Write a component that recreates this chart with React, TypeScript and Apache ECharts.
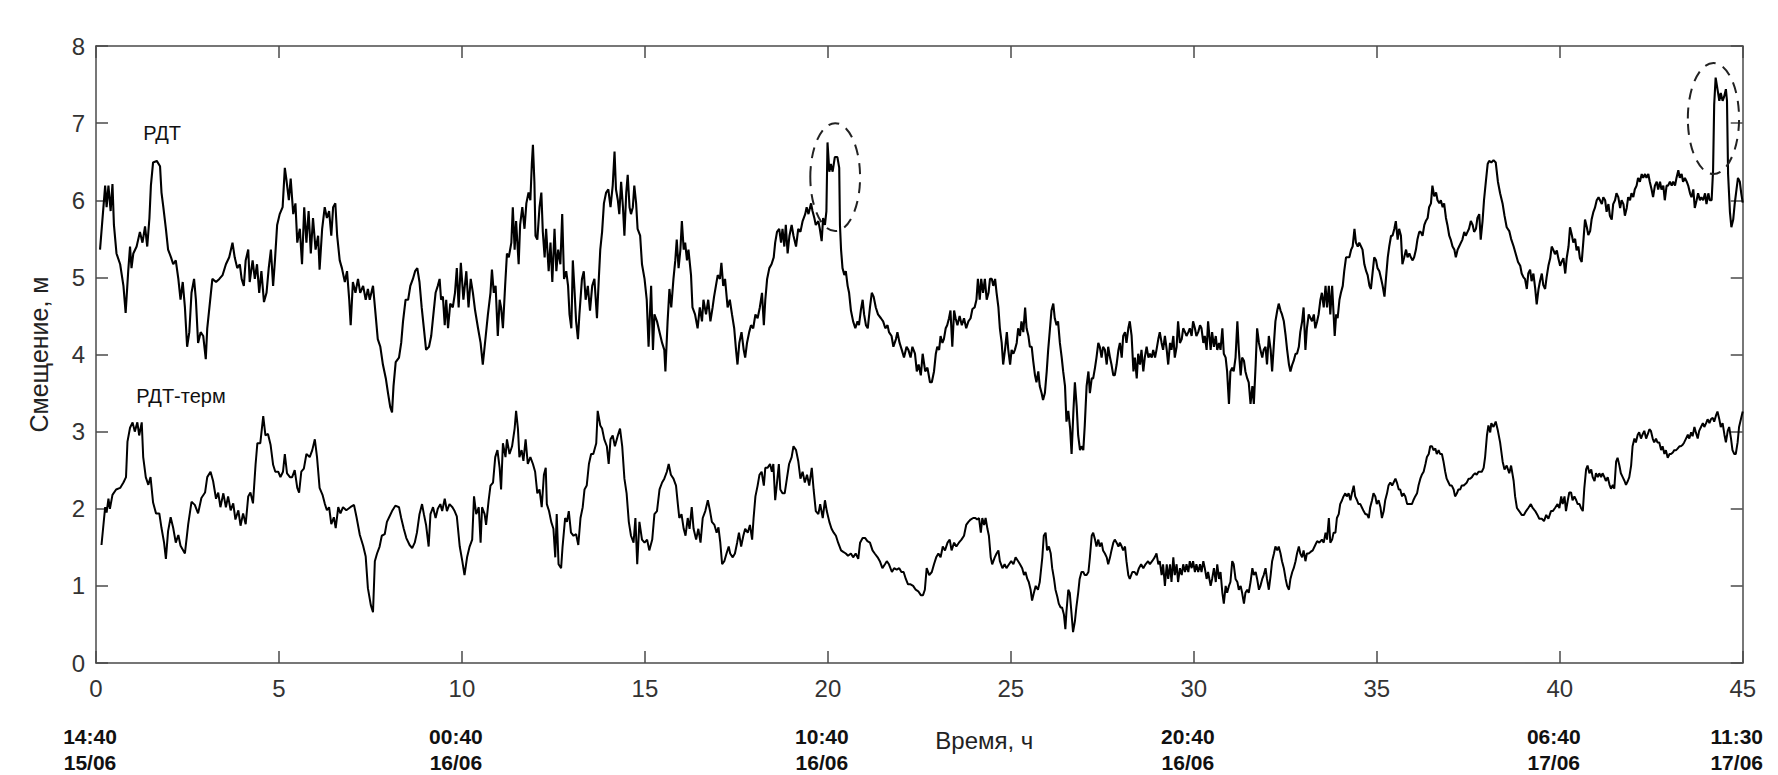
import React, { useEffect, useRef } from "react";
import * as echarts from "echarts";

// Displacement series: [hours, metres]
const rdt: [number, number][] = [
[0.11,5.36],[0.25,6.19],[0.29,5.91],[0.34,6.19],[0.4,5.86],[0.45,6.21],[0.49,5.68],[0.56,5.31],[0.66,5.17],[0.75,4.89],[0.81,4.54],[0.88,5.08],[0.93,5.40],[0.97,5.12],[1.02,5.31],[1.11,5.40],[1.2,5.59],[1.27,5.45],[1.34,5.66],[1.40,5.40],[1.46,5.77],[1.5,6.19],[1.56,6.49],[1.66,6.51],[1.75,6.44],[1.79,6.10],[1.84,5.91],[1.91,5.63],[1.97,5.36],[2.05,5.26],[2.11,5.17],[2.18,5.22],[2.25,4.98],[2.31,4.71],[2.37,4.94],[2.43,4.61],[2.49,4.10],[2.55,4.29],[2.61,4.80],[2.68,4.98],[2.73,4.71],[2.79,4.15],[2.86,4.29],[2.93,4.24],[3.0,3.94],[3.04,4.34],[3.11,4.66],[3.18,4.98],[3.28,4.94],[3.37,4.98],[3.46,5.03],[3.55,5.17],[3.64,5.26],[3.73,5.45],[3.79,5.26],[3.86,5.12],[3.93,5.17],[3.98,4.98],[4.04,4.89],[4.09,5.22],[4.16,5.36],[4.2,4.94],[4.28,5.22],[4.34,4.98],[4.4,5.17],[4.46,4.80],[4.52,5.08],[4.59,4.68],[4.66,4.80],[4.72,5.12],[4.78,5.36],[4.84,4.89],[4.89,5.22],[4.95,5.68],[5.02,5.82],[5.1,5.91],[5.16,6.42],[5.2,6.28],[5.27,6.0],[5.32,6.28],[5.39,5.82],[5.45,5.96],[5.5,5.45],[5.57,5.63],[5.63,5.17],[5.69,5.91],[5.75,5.45],[5.81,5.86],[5.87,5.31],[5.93,5.77],[6.0,5.36],[6.07,5.54],[6.11,5.10],[6.18,5.63],[6.25,5.91],[6.31,5.77],[6.37,5.86],[6.43,5.54],[6.48,5.91],[6.54,5.96],[6.59,5.54],[6.66,5.22],[6.72,5.12],[6.8,4.94],[6.86,5.08],[6.92,4.71],[6.96,4.38],[7.02,4.94],[7.09,4.80],[7.16,4.98],[7.22,4.80],[7.3,4.89],[7.37,4.71],[7.43,4.85],
[7.48,4.71],[7.57,4.89],[7.64,4.52],[7.7,4.20],[7.77,4.10],[7.84,3.87],[7.92,3.69],[7.98,3.50],[8.04,3.32],[8.09,3.25],[8.13,3.59],[8.19,3.90],[8.28,3.96],[8.34,4.15],[8.39,4.43],[8.46,4.71],[8.53,4.71],[8.59,4.89],[8.66,4.98],[8.72,5.08],[8.78,5.12],[8.84,4.94],[8.9,4.61],[8.96,4.34],[9.02,4.06],[9.1,4.10],[9.16,4.24],[9.23,4.57],[9.28,4.80],[9.34,4.89],[9.39,4.98],[9.43,4.71],[9.48,4.75],[9.53,4.38],[9.57,4.71],[9.62,4.34],[9.68,4.66],[9.75,4.61],[9.81,4.80],[9.86,5.12],[9.91,4.61],[9.97,5.19],[10.04,4.71],[10.12,5.08],[10.18,4.61],[10.24,4.98],[10.3,4.80],[10.36,4.57],[10.44,4.34],[10.51,4.15],[10.57,3.87],[10.65,4.24],[10.71,4.52],[10.78,4.80],[10.82,5.10],[10.87,4.80],[10.92,4.89],[10.98,4.24],[11.03,4.71],[11.07,4.61],[11.12,4.34],[11.18,4.89],[11.23,5.31],[11.28,5.26],[11.35,5.45],[11.39,5.91],[11.44,5.36],[11.48,5.73],[11.55,5.17],[11.59,5.68],[11.65,5.91],[11.71,5.63],[11.76,5.96],[11.82,6.10],[11.87,6.0],[11.91,6.47],[11.94,6.72],[11.98,6.24],[12.01,5.54],[12.06,5.49],[12.12,5.91],[12.17,6.10],[12.21,5.59],[12.26,5.26],[12.3,5.63],[12.37,5.08],[12.42,5.45],[12.47,4.94],[12.53,5.63],[12.58,5.08],[12.63,5.36],[12.69,5.17],[12.74,5.82],[12.79,4.98],[12.85,5.08],[12.9,4.89],[12.94,4.52],[12.99,4.34],[13.03,5.22],[13.08,4.80],[13.12,4.43],[13.17,4.20],[13.21,4.52],[13.28,4.98],[13.33,5.08],[13.38,4.71],[13.44,4.89],[13.5,4.57],[13.56,4.89],[13.62,4.98],[13.69,4.47],[13.74,4.98],[13.78,5.36],[13.83,5.59],[13.88,5.96],[13.94,6.10],[14.0,6.14],[14.06,5.91],[14.12,6.19],[14.17,6.63],[14.21,6.14],[14.26,6.0],[14.3,5.82],[14.35,6.24],[14.4,5.91],[14.44,5.54],[14.49,6.10],[14.53,6.33],[14.58,5.91],[14.62,5.82],[14.67,5.91],[14.71,6.19],[14.76,5.96],[14.8,5.63],[14.87,5.54],[14.92,5.17],[14.99,4.98],[15.05,4.71],[15.1,4.10],
[15.17,4.89],[15.22,4.06],[15.26,4.52],[15.33,4.43],[15.4,4.29],[15.47,4.15],[15.53,4.06],[15.56,3.78],[15.62,4.43],[15.67,4.85],[15.72,4.61],[15.78,4.98],[15.83,5.22],[15.87,5.49],[15.92,5.12],[15.97,5.36],[16.01,5.73],[16.06,5.36],[16.1,5.45],[16.15,5.22],[16.19,5.36],[16.26,5.03],[16.3,4.61],[16.37,4.52],[16.44,4.34],[16.5,4.61],[16.56,4.43],[16.6,4.71],[16.67,4.52],[16.73,4.71],[16.79,4.43],[16.85,4.61],[16.89,4.75],[16.94,4.89],[16.99,5.03],[17.05,4.98],[17.09,5.19],[17.14,4.89],[17.19,4.98],[17.26,4.61],[17.32,4.71],[17.38,4.52],[17.44,4.34],[17.49,4.06],[17.53,3.87],[17.58,4.15],[17.64,4.29],[17.7,4.06],[17.74,3.96],[17.79,4.15],[17.85,4.29],[17.9,4.38],[17.96,4.34],[18.02,4.52],[18.08,4.47],[18.14,4.61],[18.2,4.80],[18.25,4.38],[18.29,4.71],[18.34,4.98],[18.4,5.12],[18.46,5.17],[18.52,5.26],[18.56,5.45],[18.61,5.59],[18.67,5.63],[18.72,5.45],[18.76,5.63],[18.81,5.40],[18.85,5.68],[18.9,5.31],[18.95,5.54],[19.01,5.68],[19.06,5.54],[19.13,5.40],[19.19,5.63],[19.25,5.59],[19.31,5.73],[19.38,5.82],[19.42,5.91],[19.47,5.82],[19.54,5.96],[19.58,5.86],[19.63,5.77],[19.67,5.68],[19.74,5.73],[19.78,5.63],[19.83,5.47],[19.87,5.77],[19.92,5.68],[19.96,5.86],[19.99,6.75],[20.04,6.37],[20.08,6.47],[20.13,6.37],[20.19,6.56],[20.26,6.56],[20.31,6.42],[20.33,5.68],[20.36,5.36],[20.4,5.12],[20.45,5.03],[20.49,5.08],[20.54,4.89],[20.58,4.80],[20.63,4.57],[20.69,4.43],[20.75,4.34],[20.81,4.43],[20.85,4.38],[20.9,4.57],[20.95,4.71],[20.99,4.52],[21.04,4.38],[21.09,4.34],[21.15,4.61],[21.2,4.80],[21.25,4.75],[21.31,4.61],[21.37,4.52],[21.45,4.47],[21.51,4.43],[21.57,4.34],[21.63,4.38],[21.67,4.29],[21.74,4.24],[21.79,4.10],[21.86,4.20],[21.9,4.29],[21.96,4.15],[22.02,4.06],[22.08,3.96],[22.15,4.10],[22.2,4.06],[22.26,3.96],[22.31,4.10],[22.38,4.01],[22.43,3.78],[22.48,3.87],[22.54,3.73],[22.59,4.01],[22.66,3.78],[22.72,3.83],[22.79,3.64],
[22.84,3.64],[22.9,3.78],[22.95,4.01],[22.99,4.10],[23.04,4.06],[23.08,4.24],[23.13,4.15],[23.17,4.20],[23.22,4.34],[23.26,4.38],[23.31,4.47],[23.35,4.57],[23.4,4.10],[23.45,4.57],[23.49,4.47],[23.54,4.38],[23.6,4.50],[23.66,4.38],[23.72,4.47],[23.78,4.34],[23.84,4.43],[23.9,4.47],[23.95,4.59],[24.01,4.61],[24.06,4.71],[24.1,4.98],[24.15,4.71],[24.19,4.98],[24.24,4.80],[24.29,4.98],[24.34,4.71],[24.39,4.80],[24.43,4.98],[24.48,4.98],[24.52,4.89],[24.57,4.98],[24.61,4.80],[24.66,4.61],[24.7,4.34],[24.75,4.15],[24.79,3.87],[24.84,4.06],[24.89,4.29],[24.93,4.06],[24.98,3.87],[25.02,4.06],[25.07,4.01],[25.11,4.06],[25.16,4.15],[25.2,4.34],[25.25,4.24],[25.29,4.43],[25.34,4.29],[25.39,4.61],[25.43,4.34],[25.48,4.24],[25.52,4.10],[25.57,4.10],[25.61,3.92],[25.66,3.73],[25.7,3.64],[25.75,3.78],[25.79,3.59],[25.84,3.50],[25.88,3.41],[25.93,3.50],[25.98,3.78],[26.02,4.06],[26.07,4.34],[26.11,4.57],[26.16,4.66],[26.2,4.47],[26.25,4.38],[26.29,4.43],[26.34,4.15],[26.39,3.96],[26.43,3.78],[26.48,3.59],[26.52,3.13],[26.57,3.27],[26.62,3.04],[26.66,2.71],[26.71,3.27],[26.75,3.64],[26.8,3.32],[26.84,2.95],[26.89,2.76],[26.93,2.81],[26.98,2.76],[27.02,3.08],[27.07,3.59],[27.12,3.78],[27.16,3.50],[27.21,3.69],[27.25,3.69],[27.3,3.83],[27.34,3.96],[27.39,4.15],[27.43,4.10],[27.48,3.96],[27.52,4.10],[27.57,4.06],[27.62,3.87],[27.66,4.10],[27.71,3.96],[27.75,3.87],[27.8,3.73],[27.84,3.73],[27.89,3.87],[27.94,4.06],[27.98,4.15],[28.03,3.96],[28.07,4.24],[28.12,4.29],[28.16,4.15],[28.21,4.34],[28.25,4.43],[28.3,4.24],[28.35,3.78],[28.39,3.96],[28.44,3.69],[28.48,4.01],[28.53,3.87],[28.57,4.06],[28.62,3.78],[28.66,3.96],[28.71,4.10],[28.76,3.96],[28.8,4.01],[28.85,3.96],[28.89,4.06],[28.94,3.96],[28.98,4.06],[29.03,4.20],[29.07,4.29],[29.12,4.15],[29.16,4.06],[29.21,4.24],[29.26,4.06],[29.3,3.87],[29.35,4.15],[29.39,4.06],[29.44,4.24],[29.48,3.96],[29.53,4.10],[29.57,4.43],[29.62,4.15],[29.67,4.20],[29.71,4.34],[29.76,4.29],[29.8,4.24],[29.85,4.29],[29.89,4.34],[29.94,4.24],[29.98,4.43],[30.03,4.34],[30.07,4.24],[30.12,4.29],[30.17,4.38],[30.21,4.34],[30.26,4.15],[30.3,4.24],[30.35,4.06],[30.39,4.43],
[30.46,4.06],[30.5,4.29],[30.55,4.10],[30.6,4.24],[30.64,4.06],[30.69,4.15],[30.73,4.06],[30.78,4.34],[30.82,4.01],[30.87,3.96],[30.91,3.78],[30.96,3.36],[31.0,3.78],[31.05,3.83],[31.09,3.78],[31.14,3.96],[31.19,4.43],[31.23,4.06],[31.28,3.73],[31.32,3.96],[31.37,3.92],[31.41,3.78],[31.46,3.69],[31.5,3.64],[31.55,3.36],[31.6,3.59],[31.64,3.36],[31.69,3.87],[31.73,4.34],[31.78,4.15],[31.82,4.06],[31.87,3.96],[31.91,4.06],[31.96,4.10],[32.0,3.87],[32.05,4.24],[32.1,4.06],[32.14,3.78],[32.19,4.15],[32.23,4.43],[32.28,4.57],[32.32,4.66],[32.37,4.57],[32.41,4.52],[32.46,4.43],[32.51,4.24],[32.55,4.06],[32.6,3.87],[32.64,3.78],[32.69,3.87],[32.73,3.92],[32.78,4.01],[32.82,4.01],[32.87,4.10],[32.91,4.29],[32.96,4.43],[33.0,4.61],[33.05,4.06],[33.09,4.34],[33.14,4.52],[33.19,4.47],[33.23,4.43],[33.28,4.52],[33.32,4.34],[33.37,4.43],[33.41,4.52],[33.46,4.71],[33.5,4.80],[33.55,4.61],[33.6,4.89],[33.64,4.61],[33.69,4.89],[33.73,4.52],[33.78,4.89],[33.82,4.52],[33.85,4.24],[33.89,4.52],[33.93,4.47],[33.98,4.71],[34.02,4.80],[34.07,4.89],[34.11,5.08],[34.16,5.26],[34.2,5.26],[34.25,5.26],[34.3,5.36],[34.34,5.40],[34.39,5.63],[34.43,5.45],[34.48,5.40],[34.52,5.45],[34.57,5.40],[34.61,5.36],[34.66,5.17],[34.71,5.08],[34.75,5.03],[34.8,4.89],[34.84,4.85],[34.89,5.08],[34.93,5.26],[34.98,5.22],[35.02,5.12],[35.07,5.08],[35.12,4.98],[35.16,4.89],[35.21,4.75],[35.25,4.98],[35.3,5.26],[35.34,5.40],[35.39,5.54],[35.43,5.54],[35.48,5.63],[35.52,5.73],[35.57,5.49],[35.61,5.63],[35.66,5.54],[35.7,5.17],[35.75,5.26],[35.8,5.36],[35.84,5.26],[35.89,5.31],[35.93,5.26],[35.98,5.22],[36.02,5.26],[36.07,5.36],[36.11,5.49],[36.16,5.59],[36.2,5.59],[36.25,5.54],[36.3,5.68],[36.34,5.73],[36.39,5.77],[36.43,5.91],[36.48,5.96],[36.52,6.19],[36.57,6.05],[36.62,6.10],[36.66,6.0],[36.71,5.96],[36.75,6.0],[36.8,5.91],[36.84,5.96],[36.89,5.77],[36.93,5.68],[36.98,5.54],[37.02,5.49],[37.07,5.40],[37.12,5.36],[37.16,5.26],[37.21,5.36],[37.25,5.40],[37.3,5.45],[37.34,5.49],[37.39,5.59],[37.43,5.54],[37.48,5.59],[37.52,5.63],[37.57,5.73],[37.62,5.68],[37.66,5.59],[37.71,5.63],[37.75,5.77],[37.8,5.82],[37.84,5.49],[37.89,5.73],[37.93,6.0],[37.98,6.24],[38.03,6.47],
[38.07,6.51],[38.13,6.49],[38.19,6.52],[38.25,6.49],[38.31,6.24],[38.37,6.09],[38.44,5.95],[38.49,5.80],[38.55,5.65],[38.62,5.60],[38.67,5.50],[38.74,5.40],[38.8,5.30],[38.86,5.20],[38.92,5.15],[38.96,5.05],[39.01,5.0],[39.05,4.98],[39.1,4.85],[39.14,5.05],[39.19,5.10],[39.23,4.95],[39.28,5.05],[39.33,4.85],[39.37,4.65],[39.42,4.85],[39.46,4.95],[39.51,5.05],[39.55,4.90],[39.6,4.85],[39.64,5.0],[39.69,5.15],[39.74,5.25],[39.78,5.40],[39.83,5.35],[39.87,5.30],[39.92,5.35],[39.96,5.25],[40.01,5.15],[40.05,5.20],[40.1,5.25],[40.15,5.05],[40.19,5.25],[40.24,5.40],[40.28,5.65],[40.33,5.55],[40.37,5.45],[40.42,5.50],[40.46,5.35],[40.51,5.40],[40.55,5.25],[40.6,5.20],[40.65,5.50],[40.69,5.75],[40.74,5.65],[40.78,5.55],[40.83,5.60],[40.87,5.75],[40.92,5.85],[40.96,5.90],[41.01,6.0],[41.06,6.04],[41.1,6.0],[41.15,5.95],[41.19,6.04],[41.24,6.0],[41.28,5.85],[41.33,5.95],[41.37,5.80],[41.42,5.75],[41.46,5.95],[41.51,6.0],[41.55,6.09],[41.6,6.04],[41.65,5.90],[41.69,6.0],[41.74,5.95],[41.78,5.80],[41.83,5.90],[41.87,6.04],[41.92,6.0],[41.96,6.09],[42.01,6.04],[42.05,6.14],[42.1,6.19],[42.14,6.29],[42.19,6.24],[42.24,6.34],[42.28,6.29],[42.33,6.34],[42.37,6.29],[42.42,6.34],[42.46,6.24],[42.51,6.14],[42.55,6.04],[42.6,6.19],[42.65,6.24],[42.69,6.14],[42.74,6.24],[42.78,6.14],[42.83,6.19],[42.87,6.0],[42.92,6.19],[42.96,6.19],[43.01,6.24],[43.06,6.19],[43.1,6.24],[43.15,6.19],[43.19,6.29],[43.24,6.39],[43.28,6.29],[43.33,6.34],[43.37,6.24],[43.42,6.29],[43.47,6.24],[43.51,6.19],[43.56,6.09],[43.6,6.04],[43.65,6.14],[43.69,5.90],[43.74,6.0],[43.78,6.09],[43.83,6.0],[43.87,6.04],[43.92,6.0],[43.97,6.09],[44.01,5.95],[44.06,6.09],[44.1,6.0],[44.15,6.0],[44.19,6.39],[44.22,7.24],[44.26,7.59],[44.31,7.44],[44.36,7.29],[44.4,7.39],[44.45,7.29],[44.49,7.34],[44.54,7.44],[44.57,7.29],[44.6,6.34],[44.65,5.85],[44.69,5.65],[44.74,5.75],[44.78,5.95],[44.83,6.14],[44.87,6.29],[44.92,6.24],[44.96,6.09],[45.0,5.97]
];

const rdtTerm: [number, number][] = [
[0.15,1.53],[0.25,2.02],[0.29,1.95],[0.34,2.13],[0.38,2.0],[0.45,2.18],[0.55,2.25],[0.66,2.27],[0.75,2.34],[0.82,2.41],[0.86,2.87],[0.93,3.05],[1.0,3.12],[1.06,3.0],[1.13,3.12],[1.18,2.95],[1.25,3.12],[1.29,2.67],[1.36,2.41],[1.43,2.31],[1.49,2.41],[1.56,2.08],[1.64,1.94],[1.73,1.94],[1.79,1.75],[1.86,1.56],[1.91,1.35],[1.97,1.71],[2.04,1.89],[2.11,1.75],[2.18,1.56],[2.25,1.66],[2.31,1.52],[2.43,1.42],[2.52,1.80],[2.61,2.09],[2.7,2.05],[2.79,1.94],[2.88,2.14],[2.98,2.21],[3.04,2.41],[3.13,2.48],[3.2,2.36],[3.28,2.13],[3.34,2.21],[3.4,2.02],[3.48,2.20],[3.55,2.02],[3.61,2.16],[3.68,1.98],[3.75,2.07],[3.81,1.86],[3.89,1.98],[3.95,1.78],[4.02,1.94],[4.09,1.80],[4.16,2.16],[4.22,2.21],[4.29,2.07],[4.36,2.57],[4.41,2.85],[4.49,2.85],[4.57,3.20],[4.63,2.95],[4.7,2.97],[4.77,2.83],[4.84,2.57],[4.9,2.48],[4.98,2.48],[5.04,2.41],[5.11,2.48],[5.16,2.71],[5.22,2.46],[5.3,2.41],[5.36,2.41],[5.43,2.50],[5.5,2.27],[5.55,2.21],[5.61,2.48],[5.68,2.52],[5.75,2.71],[5.84,2.67],[5.91,2.76],[5.98,2.90],[6.04,2.67],[6.11,2.27],[6.19,2.18],[6.25,2.07],[6.31,1.98],[6.37,2.02],[6.43,1.80],[6.5,1.89],[6.55,1.75],[6.62,2.02],[6.68,1.94],[6.75,2.02],[6.84,1.98],[6.95,2.02],[7.05,2.05],[7.12,1.89],[7.21,1.66],[7.3,1.52],[7.37,1.38],[7.43,0.97],[7.51,0.75],[7.57,0.66],
[7.62,1.32],[7.68,1.42],[7.75,1.51],[7.81,1.65],[7.89,1.67],[7.95,1.83],[8.02,1.90],[8.09,1.97],[8.18,2.04],[8.28,2.02],[8.34,1.88],[8.41,1.74],[8.48,1.62],[8.57,1.53],[8.64,1.49],[8.71,1.56],[8.77,1.69],[8.84,1.93],[8.91,2.06],[8.96,1.93],[9.02,1.79],[9.09,1.51],[9.14,1.93],[9.21,2.02],[9.28,1.88],[9.34,2.0],[9.41,2.06],[9.46,1.97],[9.53,2.13],[9.59,1.97],[9.66,2.06],[9.74,2.02],[9.8,1.97],[9.86,1.90],[9.94,1.51],[10.01,1.32],[10.07,1.14],[10.14,1.37],[10.21,1.51],[10.28,1.60],[10.33,2.16],[10.39,1.93],[10.46,2.02],[10.51,1.56],[10.55,2.02],[10.62,1.93],[10.66,1.79],[10.73,2.11],[10.78,2.30],[10.85,2.34],[10.91,2.67],[10.97,2.76],[11.03,2.53],[11.07,2.25],[11.12,2.85],[11.19,2.67],[11.23,2.90],[11.3,2.71],[11.37,2.81],[11.44,3.04],[11.48,3.27],[11.53,3.04],[11.57,2.67],[11.63,2.76],[11.68,2.62],[11.74,2.90],[11.8,2.58],[11.87,2.67],[11.94,2.58],[12.0,2.48],[12.06,2.20],[12.12,2.25],[12.18,2.02],[12.24,2.44],[12.29,2.53],[12.32,2.06],[12.38,1.97],[12.44,1.83],[12.5,1.74],[12.55,1.37],[12.59,1.93],[12.64,1.28],[12.71,1.23],[12.75,1.51],[12.82,1.88],[12.87,1.83],[12.92,1.97],[12.98,1.69],[13.05,1.65],[13.12,1.67],[13.18,1.53],[13.24,1.88],[13.3,2.02],[13.35,2.25],[13.41,2.30],[13.47,2.58],[13.53,2.71],[13.59,2.71],[13.67,2.85],[13.71,3.27],[13.78,3.08],[13.83,3.04],[13.89,2.90],[13.96,2.81],[14.01,2.58],[14.06,2.90],[14.12,2.95],[14.18,2.81],[14.26,2.95],[14.32,3.04],[14.38,2.81],[14.44,2.39],[14.5,2.20],[14.56,1.83],[14.62,1.65],[14.69,1.56],[14.74,1.88],[14.79,1.28],[14.85,1.83],[14.92,1.60],[14.99,1.56],[15.06,1.60],[15.12,1.46],
[15.2,1.60],[15.26,1.93],[15.33,1.97],[15.4,2.25],[15.47,2.34],[15.53,2.39],[15.6,2.48],[15.65,2.58],[15.71,2.44],[15.78,2.39],[15.85,2.30],[15.9,2.06],[15.94,1.88],[16.0,1.93],[16.06,1.74],[16.11,1.65],[16.17,1.88],[16.22,1.74],[16.28,2.02],[16.33,1.74],[16.4,1.60],[16.46,1.74],[16.52,1.56],[16.58,1.88],[16.65,1.97],[16.72,2.11],[16.78,1.97],[16.83,1.83],[16.9,1.79],[16.96,1.69],[17.01,1.76],[17.06,1.56],[17.11,1.28],[17.17,1.32],[17.23,1.42],[17.29,1.51],[17.33,1.42],[17.4,1.37],[17.46,1.42],[17.52,1.56],[17.57,1.69],[17.63,1.51],[17.69,1.65],[17.74,1.74],[17.81,1.69],[17.87,1.79],[17.93,1.60],[17.97,1.88],[18.02,2.16],[18.08,2.30],[18.13,2.44],[18.19,2.48],[18.25,2.30],[18.29,2.53],[18.35,2.53],[18.42,2.58],[18.47,2.48],[18.51,2.58],[18.56,2.11],[18.61,2.34],[18.66,2.58],[18.7,2.25],[18.76,2.20],[18.82,2.20],[18.88,2.39],[18.94,2.58],[19.01,2.67],[19.06,2.81],[19.13,2.76],[19.19,2.62],[19.25,2.39],[19.31,2.48],[19.37,2.34],[19.43,2.44],[19.49,2.30],[19.56,2.53],[19.61,2.25],[19.67,1.97],[19.74,1.93],[19.79,2.06],[19.86,1.88],[19.92,2.11],[19.97,1.97],[20.04,1.83],[20.1,1.74],[20.16,1.69],[20.22,1.65],[20.28,1.56],[20.36,1.46],[20.42,1.44],[20.49,1.42],[20.55,1.39],[20.63,1.42],[20.69,1.37],[20.76,1.42],[20.83,1.35],[20.88,1.56],[20.95,1.62],[21.02,1.62],[21.08,1.58],[21.15,1.56],[21.22,1.46],[21.28,1.42],[21.36,1.37],[21.42,1.32],[21.49,1.23],[21.56,1.28],[21.61,1.32],[21.67,1.28],[21.75,1.18],[21.81,1.23],[21.88,1.21],[21.95,1.23],[22.01,1.18],[22.07,1.18],[22.13,1.09],[22.19,1.02],[22.26,1.02],[22.33,1.0],[22.4,0.95],[22.47,0.93],[22.54,0.88],[22.6,0.88],[22.65,0.95],[22.7,1.23],[22.77,1.14],[22.84,1.18],
[22.9,1.28],[22.96,1.37],[23.02,1.42],[23.08,1.37],[23.14,1.51],[23.2,1.46],[23.27,1.56],[23.33,1.60],[23.38,1.46],[23.45,1.56],[23.51,1.51],[23.58,1.56],[23.65,1.60],[23.72,1.65],[23.78,1.79],[23.84,1.83],[23.9,1.86],[23.97,1.88],[24.03,1.88],[24.08,1.86],[24.13,1.88],[24.18,1.69],[24.22,1.88],[24.27,1.79],[24.31,1.88],[24.36,1.74],[24.4,1.65],[24.45,1.37],[24.49,1.28],[24.56,1.37],[24.61,1.42],[24.66,1.46],[24.7,1.32],[24.77,1.23],[24.83,1.28],[24.88,1.23],[24.95,1.28],[25.01,1.32],[25.07,1.28],[25.13,1.37],[25.2,1.32],[25.25,1.28],[25.31,1.23],[25.36,1.14],[25.4,1.18],[25.45,1.09],[25.49,1.05],[25.54,0.95],[25.58,0.81],[25.63,0.91],[25.68,1.0],[25.74,0.95],[25.79,1.05],[25.86,1.37],[25.9,1.65],[25.95,1.69],[25.99,1.46],[26.04,1.51],[26.09,1.42],[26.13,1.23],[26.18,1.09],[26.22,0.95],[26.27,0.86],[26.31,0.77],[26.36,0.72],[26.4,0.72],[26.45,0.63],[26.49,0.44],[26.52,0.67],[26.57,0.95],[26.61,0.91],[26.66,0.63],[26.7,0.40],[26.75,0.54],[26.79,0.72],[26.84,0.91],[26.88,1.09],[26.93,1.18],[26.98,1.18],[27.02,1.14],[27.07,1.14],[27.12,1.18],[27.16,1.37],[27.21,1.65],[27.25,1.69],[27.3,1.60],[27.34,1.51],[27.39,1.60],[27.43,1.51],[27.48,1.56],[27.52,1.46],[27.57,1.42],[27.62,1.37],[27.66,1.28],[27.71,1.37],[27.75,1.46],[27.8,1.56],[27.84,1.60],[27.89,1.56],[27.94,1.51],[27.98,1.56],[28.03,1.51],[28.07,1.46],[28.12,1.51],[28.16,1.32],[28.21,1.14],[28.25,1.09],[28.32,1.18],[28.38,1.18],[28.44,1.14],[28.5,1.23],[28.56,1.28],[28.62,1.23],[28.68,1.28],[28.75,1.32],[28.8,1.28],[28.86,1.32],[28.93,1.37],[28.98,1.42],[29.03,1.28],[29.07,1.32],[29.12,1.14],[29.16,1.28],[29.21,1.0],[29.26,1.28],[29.3,1.09],[29.35,1.28],[29.39,1.05],[29.44,1.37],[29.48,1.14],[29.53,1.28],[29.57,1.05],[29.62,1.23],[29.67,1.14],[29.71,1.28],[29.76,1.18],[29.8,1.28],[29.85,1.18],[29.89,1.32],[29.94,1.23],[29.98,1.32],[30.03,1.18],[30.07,1.28],[30.12,1.18],[30.17,1.28],[30.21,1.18],[30.26,1.32],[30.3,1.23],[30.35,1.09],[30.39,1.18],
[30.46,1.0],[30.5,1.09],[30.55,1.23],[30.6,1.05],[30.64,1.28],[30.69,1.09],[30.73,1.18],[30.78,0.91],[30.82,0.77],[30.87,1.0],[30.91,0.91],[30.96,1.0],[31.0,1.05],[31.05,1.32],[31.09,1.28],[31.14,1.09],[31.19,1.05],[31.23,0.95],[31.28,1.0],[31.32,0.91],[31.37,0.77],[31.41,0.91],[31.46,0.95],[31.5,0.91],[31.55,1.05],[31.6,1.23],[31.64,1.14],[31.69,1.18],[31.73,1.09],[31.78,0.95],[31.82,1.0],[31.87,1.09],[31.91,1.14],[31.96,1.23],[32.0,1.09],[32.05,0.95],[32.1,1.14],[32.14,1.32],[32.19,1.42],[32.23,1.51],[32.28,1.46],[32.32,1.51],[32.37,1.42],[32.41,1.32],[32.46,1.23],[32.51,1.09],[32.55,1.0],[32.6,0.95],[32.64,1.09],[32.69,1.18],[32.73,1.23],[32.78,1.32],[32.82,1.42],[32.87,1.51],[32.91,1.42],[32.96,1.37],[33.0,1.46],[33.05,1.32],[33.09,1.42],[33.14,1.42],[33.19,1.44],[33.25,1.46],[33.3,1.51],[33.37,1.58],[33.43,1.56],[33.5,1.60],[33.55,1.56],[33.6,1.69],[33.64,1.60],[33.69,1.88],[33.73,1.56],[33.78,1.60],[33.82,1.69],[33.87,1.69],[33.91,1.88],[33.96,1.93],[34.0,2.06],[34.05,2.11],[34.09,2.16],[34.14,2.20],[34.18,2.16],[34.23,2.20],[34.28,2.11],[34.32,2.20],[34.37,2.30],[34.41,2.16],[34.46,2.11],[34.5,2.06],[34.55,2.06],[34.59,2.02],[34.64,1.97],[34.69,1.93],[34.73,1.93],[34.78,1.88],[34.82,2.02],[34.87,2.11],[34.91,2.20],[34.96,2.16],[35.0,2.06],[35.05,2.11],[35.1,2.02],[35.14,1.88],[35.19,1.97],[35.23,2.11],[35.28,2.20],[35.32,2.30],[35.37,2.34],[35.42,2.30],[35.46,2.34],[35.51,2.39],[35.55,2.34],[35.6,2.25],[35.64,2.25],[35.69,2.16],[35.73,2.20],[35.78,2.16],[35.83,2.06],[35.87,2.06],[35.91,2.06],[35.96,2.06],[36.0,2.11],[36.05,2.16],[36.1,2.20],[36.14,2.30],[36.19,2.39],[36.23,2.44],[36.28,2.48],[36.33,2.58],[36.37,2.67],[36.42,2.71],[36.46,2.81],[36.51,2.81],[36.55,2.76],[36.6,2.78],[36.64,2.71],[36.69,2.76],[36.73,2.71],[36.78,2.71],[36.82,2.62],[36.87,2.48],[36.91,2.39],[36.96,2.34],[37.0,2.30],[37.05,2.30],[37.1,2.25],[37.14,2.16],[37.19,2.20],[37.23,2.25],[37.28,2.25],[37.32,2.30],[37.37,2.30],[37.42,2.32],[37.46,2.34],[37.51,2.39],[37.55,2.39],[37.6,2.41],[37.64,2.44],[37.69,2.46],[37.73,2.44],[37.78,2.48],[37.82,2.48],[37.87,2.48],[37.92,2.53],[37.96,2.67],[38.01,2.95],[38.05,3.08],[38.1,2.99],
[38.13,3.11],[38.19,3.06],[38.25,3.13],[38.31,3.01],[38.37,2.86],[38.44,2.61],[38.49,2.51],[38.55,2.56],[38.62,2.46],[38.67,2.56],[38.74,2.36],[38.78,2.16],[38.83,2.01],[38.89,1.97],[38.96,1.92],[39.02,1.92],[39.08,1.97],[39.14,2.01],[39.21,2.06],[39.26,2.01],[39.33,1.97],[39.39,1.92],[39.44,1.87],[39.51,1.87],[39.57,1.84],[39.63,1.92],[39.69,1.87],[39.76,1.97],[39.81,1.97],[39.87,2.01],[39.94,2.06],[39.99,2.01],[40.04,2.16],[40.08,2.06],[40.13,2.16],[40.17,1.97],[40.22,2.11],[40.26,2.21],[40.31,2.21],[40.35,2.11],[40.4,2.16],[40.45,2.11],[40.49,2.06],[40.54,2.06],[40.58,2.01],[40.63,1.97],[40.67,2.26],[40.72,2.51],[40.76,2.56],[40.81,2.46],[40.86,2.51],[40.9,2.41],[40.95,2.36],[40.99,2.46],[41.04,2.41],[41.08,2.46],[41.13,2.41],[41.17,2.46],[41.22,2.41],[41.26,2.36],[41.31,2.41],[41.36,2.31],[41.4,2.26],[41.45,2.31],[41.49,2.26],[41.54,2.61],[41.58,2.66],[41.63,2.56],[41.67,2.46],[41.72,2.41],[41.77,2.36],[41.81,2.31],[41.86,2.36],[41.9,2.41],[41.95,2.56],[41.99,2.81],[42.04,2.91],[42.08,2.86],[42.13,2.96],[42.17,2.99],[42.22,2.91],[42.26,2.96],[42.31,3.01],[42.36,2.91],[42.4,2.96],[42.45,3.03],[42.49,3.01],[42.54,2.91],[42.58,2.86],[42.63,2.91],[42.67,2.86],[42.72,2.86],[42.77,2.76],[42.81,2.81],[42.86,2.71],[42.9,2.76],[42.95,2.66],[43.0,2.71],[43.04,2.71],[43.09,2.73],[43.13,2.76],[43.18,2.76],[43.22,2.78],[43.27,2.81],[43.31,2.81],[43.36,2.83],[43.4,2.86],[43.45,2.91],[43.5,2.96],[43.54,2.91],[43.59,2.99],[43.63,2.94],[43.68,3.06],[43.72,2.99],[43.77,2.91],[43.81,3.01],[43.86,3.06],[43.91,3.11],[43.95,3.06],[44.0,3.11],[44.04,3.16],[44.09,3.11],[44.13,3.16],[44.18,3.18],[44.22,3.13],[44.27,3.21],[44.31,3.26],[44.36,3.16],[44.4,3.06],[44.45,3.11],[44.5,2.96],[44.54,2.86],[44.59,3.01],[44.63,3.06],[44.68,2.91],[44.72,2.76],[44.77,2.71],[44.81,2.71],[44.86,2.86],[44.9,3.06],[44.95,3.16],[45.0,3.26]
];

// Dashed highlight ellipses: [centre hours, centre metres, half-width hours, half-height metres]
const highlightEllipses: number[][] = [
  [20.2, 6.3, 0.68, 0.7],
  [44.2, 7.06, 0.7, 0.72],
];

// Clock / date labels under the hour axis
const dateTickHours = [0, 10, 20, 30, 40, 45];
const dateTickTimes = ["14:40", "00:40", "10:40", "20:40", "06:40", "11:30"];
const dateTickDays = ["15/06", "16/06", "16/06", "16/06", "17/06", "17/06"];

const seriesNames = ["РДТ", "РДТ-терм"];
const xAxisTitle = "Время, ч";
const yAxisTitle = "Смещение, м";

export default function App() {
  const ref = useRef<HTMLDivElement>(null);
  useEffect(() => {
    if (!ref.current) return;
    const chart = echarts.init(ref.current, null, { renderer: "svg" });
    const axisColor = "#4a4a4a";
    const font = "'Liberation Sans', Arial, sans-serif";
    const boxLine = { show: true, onZero: false, lineStyle: { color: axisColor, width: 1.5 } };
    const inTick = { show: true, inside: true, length: 12, lineStyle: { color: axisColor, width: 1.5 } };
    chart.setOption({
      animation: false,
      backgroundColor: "#ffffff",
      grid: { left: 96, right: 33, top: 46, bottom: 112, containLabel: false },
      xAxis: [
        {
          type: "value", min: 0, max: 45, interval: 5, position: "bottom",
          axisLine: boxLine, axisTick: inTick, splitLine: { show: false },
          axisLabel: { fontSize: 24, color: "#333", margin: 13, fontFamily: font },
          name: xAxisTitle, nameLocation: "middle", nameGap: 65,
          nameTextStyle: { fontSize: 24, color: "#222", fontFamily: font, padding: [0, 0, 0, 130] },
        },
        {
          type: "value", min: 0, max: 45, interval: 5, position: "top",
          axisLine: boxLine, axisTick: inTick, splitLine: { show: false },
          axisLabel: { show: false },
        },
        {
          type: "value", min: 0, max: 45, interval: 5, position: "bottom",
          axisLine: { show: false }, axisTick: { show: false }, splitLine: { show: false },
          axisLabel: {
            margin: 60,
            formatter: (v: number) => {
              const i = dateTickHours.indexOf(v);
              return i < 0 ? "" : `{t|${dateTickTimes[i]}}\n{t|${dateTickDays[i]}}`;
            },
            rich: { t: { fontSize: 21, fontWeight: "bold", color: "#111", fontFamily: font, lineHeight: 26, padding: [0, 12, 0, 0] } },
          },
        },
      ],
      yAxis: [
        {
          type: "value", min: 0, max: 8, interval: 1, position: "left",
          axisLine: boxLine, axisTick: inTick, splitLine: { show: false },
          axisLabel: { fontSize: 24, color: "#333", margin: 11, fontFamily: font },
          name: yAxisTitle, nameLocation: "middle", nameGap: 45,
          nameTextStyle: { fontSize: 25, color: "#222", fontFamily: font },
        },
        {
          type: "value", min: 0, max: 8, interval: 1, position: "right",
          axisLine: boxLine, axisTick: inTick, splitLine: { show: false },
          axisLabel: { show: false },
        },
      ],
      series: [
        {
          name: seriesNames[0], type: "line", data: rdt, xAxisIndex: 0, yAxisIndex: 0,
          symbol: "none", showSymbol: false,
          lineStyle: { color: "#000", width: 2.1 }, z: 3,
        },
        {
          name: seriesNames[1], type: "line", data: rdtTerm, xAxisIndex: 0, yAxisIndex: 0,
          symbol: "none", showSymbol: false,
          lineStyle: { color: "#000", width: 2.0 }, z: 3,
        },
        {
          type: "custom", xAxisIndex: 0, yAxisIndex: 0, data: highlightEllipses,
          encode: { x: 0, y: 1 }, z: 4, silent: true,
          renderItem: (params: any, api: any) => {
            const c = api.coord([api.value(0), api.value(1)]);
            const s = api.size([api.value(2), api.value(3)]);
            return {
              type: "ellipse",
              shape: { cx: c[0], cy: c[1], rx: s[0], ry: s[1] },
              style: { fill: "none", stroke: "#222", lineWidth: 2, lineDash: [11, 8] },
            };
          },
        },
      ],
      graphic: [
        { type: "text", x: 162, y: 133, style: { text: seriesNames[0], fontSize: 20, fontFamily: font, fill: "#111", align: "center", verticalAlign: "middle" } },
        { type: "text", x: 181, y: 396, style: { text: seriesNames[1], fontSize: 20, fontFamily: font, fill: "#111", align: "center", verticalAlign: "middle" } },
      ],
    });
    return () => chart.dispose();
  }, []);
  return (
    <div
      ref={ref}
      style={{ position: "fixed", left: 0, top: 0, width: 1778, height: 775, background: "#fff" }}
    />
  );
}
